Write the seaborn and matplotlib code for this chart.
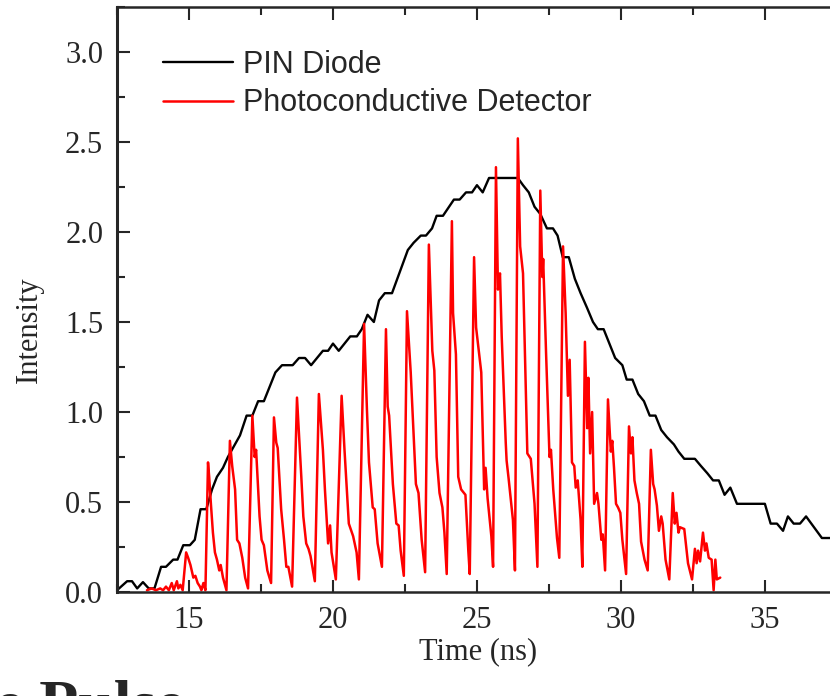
import matplotlib
matplotlib.use("Agg")
import matplotlib.pyplot as plt
from matplotlib.ticker import MultipleLocator
import pandas as pd
import seaborn as sns

# PIN diode trace
pin_time = [12.5, 12.85, 13.02, 13.2, 13.4, 13.6, 13.8, 14.03, 14.2, 14.45, 14.6,
            14.8, 15.03, 15.2, 15.4, 15.6, 15.8, 15.97, 16.18, 16.35, 16.63, 16.77,
            17.0, 17.2, 17.4, 17.6, 18.0, 18.23, 18.6, 18.82, 19.03, 19.24, 19.65,
            19.83, 20.0, 20.2, 20.6, 20.83, 21.0, 21.2, 21.42, 21.6, 21.8, 22.05,
            22.6, 22.8, 23.05, 23.23, 23.44, 23.6, 23.82, 24.2, 24.4, 24.62, 24.83,
            25.0, 25.2, 25.42, 26.42, 26.6, 26.8, 27.0, 27.2, 27.43, 27.64, 27.8,
            27.98, 28.19, 28.4, 28.6, 28.82, 29.03, 29.2, 29.4, 29.8, 30.05, 30.2,
            30.4, 30.6, 30.8, 31.0, 31.2, 31.4, 31.6, 31.84, 32.0, 32.2, 32.57,
            32.78, 33.0, 33.2, 33.4, 33.6, 33.8, 34.03, 35.0, 35.2, 35.42, 35.63,
            35.8, 36.0, 36.22, 36.43, 36.98, 37.4]
pin_int = [0.01, 0.06, 0.06, 0.02, 0.055, 0.02, 0.02, 0.14, 0.14, 0.18, 0.18,
           0.26, 0.26, 0.29, 0.46, 0.46, 0.57, 0.64, 0.69, 0.75, 0.83, 0.87,
           0.98, 0.98, 1.06, 1.06, 1.22, 1.26, 1.26, 1.30, 1.30, 1.26, 1.34,
           1.34, 1.38, 1.34, 1.42, 1.42, 1.46, 1.54, 1.50, 1.62, 1.66, 1.66,
           1.90, 1.94, 1.98, 1.98, 2.02, 2.09, 2.09, 2.18, 2.18, 2.22, 2.22,
           2.26, 2.22, 2.30, 2.30, 2.26, 2.22, 2.14, 2.10, 2.02, 2.02, 1.98,
           1.86, 1.86, 1.74, 1.66, 1.58, 1.50, 1.46, 1.46, 1.30, 1.26, 1.18,
           1.18, 1.10, 1.06, 0.98, 0.98, 0.90, 0.86, 0.82, 0.78, 0.74, 0.74,
           0.70, 0.66, 0.62, 0.62, 0.54, 0.58, 0.49, 0.49, 0.38, 0.38, 0.34,
           0.42, 0.38, 0.38, 0.42, 0.30, 0.30]

# Photoconductive detector trace
pcd_time = [13.54, 13.7, 13.85, 14.0, 14.1, 14.2, 14.3, 14.4, 14.47, 14.58, 14.63,
            14.7, 14.78, 14.9, 14.97, 15.05, 15.15, 15.22, 15.3, 15.38, 15.43,
            15.5, 15.57, 15.66, 15.7, 15.76, 15.83, 15.9, 15.97, 16.05, 16.1,
            16.18, 16.3, 16.42, 16.5, 16.6, 16.67, 16.75, 16.85, 16.95, 17.05,
            17.2, 17.28, 17.33, 17.45, 17.52, 17.6, 17.72, 17.85, 17.95, 18.03,
            18.08, 18.2, 18.3, 18.38, 18.45, 18.58, 18.75, 18.9, 18.97, 19.07,
            19.15, 19.22, 19.37, 19.51, 19.65, 19.72, 19.83, 19.9, 19.95, 20.1,
            20.3, 20.4, 20.55, 20.7, 20.82, 20.9, 21.08, 21.18, 21.25, 21.38,
            21.45, 21.55, 21.7, 21.84, 21.9, 21.95, 22.08, 22.2, 22.28, 22.35,
            22.46, 22.57, 22.7, 22.88, 22.97, 23.08, 23.2, 23.33, 23.45, 23.52,
            23.6, 23.7, 23.8, 23.87, 23.95, 24.13, 24.17, 24.27, 24.35, 24.45,
            24.6, 24.7, 24.75, 24.9, 24.97, 25.15, 25.25, 25.3, 25.37, 25.5,
            25.56, 25.66, 25.73, 25.8, 25.86, 26.0, 26.03, 26.1, 26.25, 26.32,
            26.42, 26.5, 26.6, 26.75, 26.87, 27.0, 27.1, 27.2, 27.27, 27.3,
            27.4, 27.52, 27.57, 27.65, 27.78, 27.86, 27.99, 28.08, 28.16, 28.22,
            28.3, 28.38, 28.43, 28.5, 28.6, 28.66, 28.75, 28.83, 28.87, 28.93,
            29.0, 29.07, 29.17, 29.22, 29.32, 29.37, 29.45, 29.55, 29.65, 29.7,
            29.76, 29.83, 29.9, 29.98, 30.05, 30.18, 30.28, 30.35, 30.4, 30.47,
            30.55, 30.63, 30.7, 30.82, 30.93, 31.04, 31.12, 31.17, 31.25, 31.32,
            31.4, 31.45, 31.55, 31.68, 31.8, 31.87, 31.93, 32.0, 32.05, 32.2,
            32.33, 32.47, 32.57, 32.63, 32.68, 32.75, 32.85, 32.92, 32.97, 33.05,
            33.15, 33.22, 33.28, 33.33, 33.45]
pcd_int = [0.01, 0.02, 0.01, 0.02, 0.01, 0.03, 0.01, 0.05, 0.01, 0.06, 0.02,
           0.04, 0.01, 0.22, 0.19, 0.15, 0.08, 0.09, 0.05, 0.03, 0.01,
           0.05, 0.01, 0.72, 0.64, 0.49, 0.33, 0.22, 0.18, 0.12, 0.15,
           0.08, 0.01, 0.84, 0.70, 0.57, 0.29, 0.27, 0.19, 0.08, 0.02,
           0.98, 0.75, 0.79, 0.42, 0.29, 0.26, 0.12, 0.05, 0.97, 0.83,
           0.80, 0.46, 0.29, 0.14, 0.14, 0.03, 1.08, 0.64, 0.42, 0.27,
           0.24, 0.20, 0.06, 1.10, 0.79, 0.57, 0.27, 0.37, 0.22, 0.07,
           1.09, 0.79, 0.38, 0.31, 0.22, 0.07, 1.49, 1.01, 0.72, 0.47,
           0.46, 0.27, 0.14, 1.46, 1.03, 0.98, 0.60, 0.38, 0.37, 0.23,
           0.09, 1.56, 1.22, 0.60, 0.55, 0.29, 0.11, 1.93, 1.34, 1.23,
           0.75, 0.55, 0.47, 0.33, 0.10, 2.06, 1.55, 1.32, 0.64, 0.57,
           0.54, 0.23, 0.10, 1.86, 1.47, 1.22, 0.57, 0.69, 0.52, 0.31,
           0.14, 2.36, 1.68, 1.77, 1.42, 0.83, 0.73, 0.63, 0.40, 0.12,
           2.52, 1.92, 1.77, 0.77, 0.74, 0.49, 0.14, 2.23, 1.75, 1.85,
           1.33, 0.75, 0.79, 0.57, 0.30, 0.19, 1.92, 1.55, 1.09, 1.29,
           0.72, 0.70, 0.58, 0.62, 0.40, 0.14, 1.39, 0.91, 1.19, 0.77,
           1.00, 0.49, 0.55, 0.49, 0.29, 0.32, 0.12, 1.07, 0.78, 0.84,
           0.69, 0.49, 0.47, 0.44, 0.29, 0.10, 0.92, 0.77, 0.86, 0.62,
           0.55, 0.49, 0.28, 0.18, 0.12, 0.79, 0.60, 0.57, 0.48, 0.34,
           0.42, 0.38, 0.18, 0.07, 0.55, 0.38, 0.44, 0.33, 0.36, 0.35,
           0.16, 0.07, 0.24, 0.16, 0.23, 0.17, 0.33, 0.23, 0.27, 0.19,
           0.18, 0.01, 0.18, 0.07, 0.08]

x_ticks = [15, 20, 25, 30, 35]
y_ticks = [0.0, 0.5, 1.0, 1.5, 2.0, 2.5, 3.0]

sns.set_style("ticks")
plt.rcParams["font.family"] = ["Liberation Serif", "DejaVu Serif"]

pin_df = pd.DataFrame({"time": pin_time, "intensity": pin_int})
pcd_df = pd.DataFrame({"time": pcd_time, "intensity": pcd_int})

fig = plt.figure(figsize=(8.3, 6.96), dpi=100)
# axes runs past the right edge of the picture, like the cropped original
ax = fig.add_axes([0.141, 0.1494, 0.954, 0.8406])

sns.lineplot(data=pin_df, x="time", y="intensity", ax=ax, color="black",
             linewidth=1.7, estimator=None, sort=False, label="PIN Diode")
sns.lineplot(data=pcd_df, x="time", y="intensity", ax=ax, color="#ff0000",
             linewidth=1.8, estimator=None, sort=False,
             label="Photoconductive Detector")

ax.set_xlim(12.5, 40)
ax.set_ylim(0, 3.25)
ax.set_xticks(x_ticks)
ax.set_yticks(y_ticks)
ax.set_yticklabels([f"{v:.1f}" for v in y_ticks])
ax.xaxis.set_minor_locator(MultipleLocator(2.5))
ax.yaxis.set_minor_locator(MultipleLocator(0.25))

ax.tick_params(which="both", direction="in", top=True, right=False,
               width=1.5, labelsize=22, pad=10)
ax.tick_params(which="major", length=9)
ax.tick_params(which="minor", length=5.5)

ax.spines["right"].set_visible(False)
ax.spines["left"].set_linewidth(2.2)
ax.spines["bottom"].set_linewidth(1.8)
ax.spines["top"].set_linewidth(1.8)

ax.set_xlabel("Time (ns)", fontsize=22)
ax.set_ylabel("Intensity", fontsize=22)
ax.xaxis.set_label_coords(0.456, -0.078)
ax.yaxis.set_label_coords(-0.092, 0.448)

ax.legend(loc="upper left", bbox_to_anchor=(0.058, 0.927), frameon=False,
          borderaxespad=0, borderpad=0, handlelength=2.3, handletextpad=0.33,
          labelspacing=0.28, prop={"family": "Liberation Sans", "size": 22})

# cropped caption from the page underneath
fig.text(-0.006, 0.024, "e Pulse", fontsize=46, fontweight="bold",
         family="Liberation Serif", va="top", ha="left")

fig.savefig("out.png", dpi=100)
